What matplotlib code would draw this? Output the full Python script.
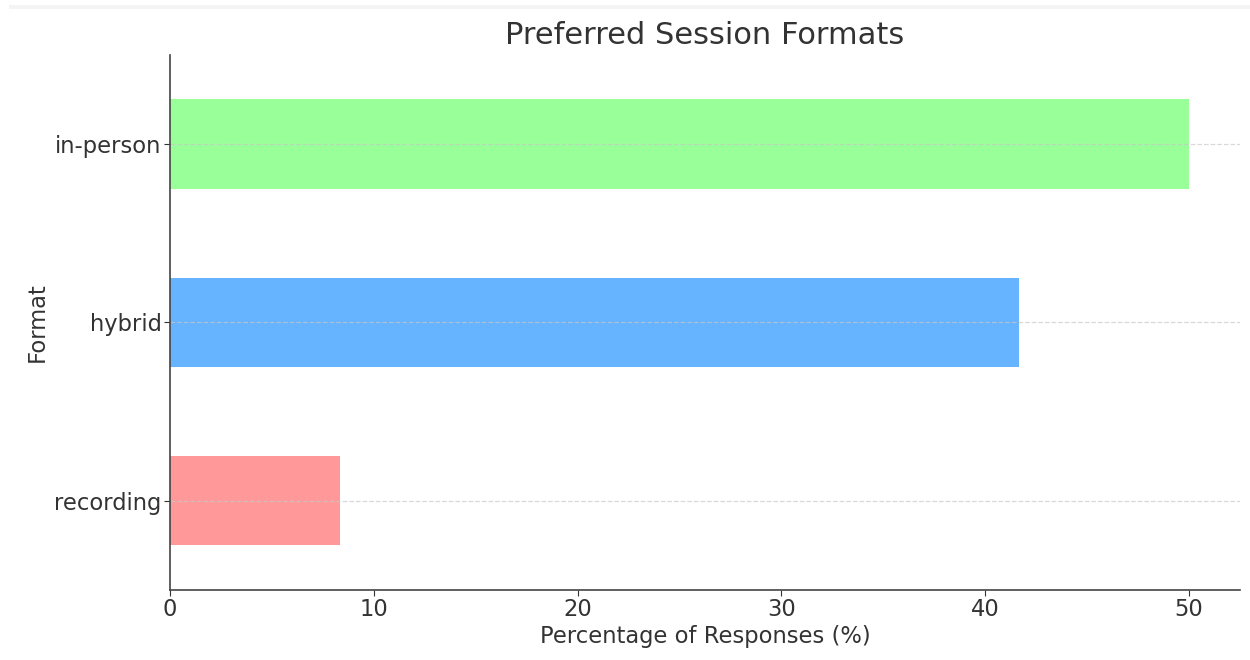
import matplotlib
matplotlib.use("Agg")
import matplotlib.pyplot as plt
import pandas as pd
from matplotlib.patches import Rectangle

# Survey results: share of responses per session format
formats = ["recording", "hybrid", "in-person"]
percentages = [8.33, 41.67, 50.0]
bar_colors = ["#ff9999", "#66b3ff", "#99ff99"]

df = pd.DataFrame({"Format": formats, "Percentage": percentages}).set_index("Format")

fig = plt.figure(figsize=(12.5, 6.6), dpi=100)
ax = fig.add_axes([0.136, 0.106, 0.856, 0.811])

df["Percentage"].plot(kind="barh", ax=ax, color=bar_colors, width=0.5)

ax.set_title("Preferred Session Formats", fontsize=22, color="#333333", pad=8)
ax.set_xlabel("Percentage of Responses (%)", fontsize=16.3, color="#333333", labelpad=3)
ax.set_ylabel("Format", fontsize=16.3, color="#333333", labelpad=4)
ax.tick_params(axis="both", labelsize=16.3, colors="#333333", length=4)
ax.tick_params(axis="x", pad=1.5)
ax.tick_params(axis="y", pad=2)
ax.grid(axis="y", linestyle="--", alpha=0.7, color="#c8c8c8", linewidth=0.9)
ax.grid(axis="x", visible=False)

for side in ("top", "right"):
    ax.spines[side].set_visible(False)
for side in ("left", "bottom"):
    ax.spines[side].set_color("#444444")
    ax.spines[side].set_linewidth(1.2)

# thin pale strip along the upper edge of the canvas
fig.patches.append(Rectangle((0.007, 0.986), 0.993, 0.007, transform=fig.transFigure,
                             facecolor="#f4f4f4", edgecolor="none"))

fig.savefig("out.png", dpi=100)
